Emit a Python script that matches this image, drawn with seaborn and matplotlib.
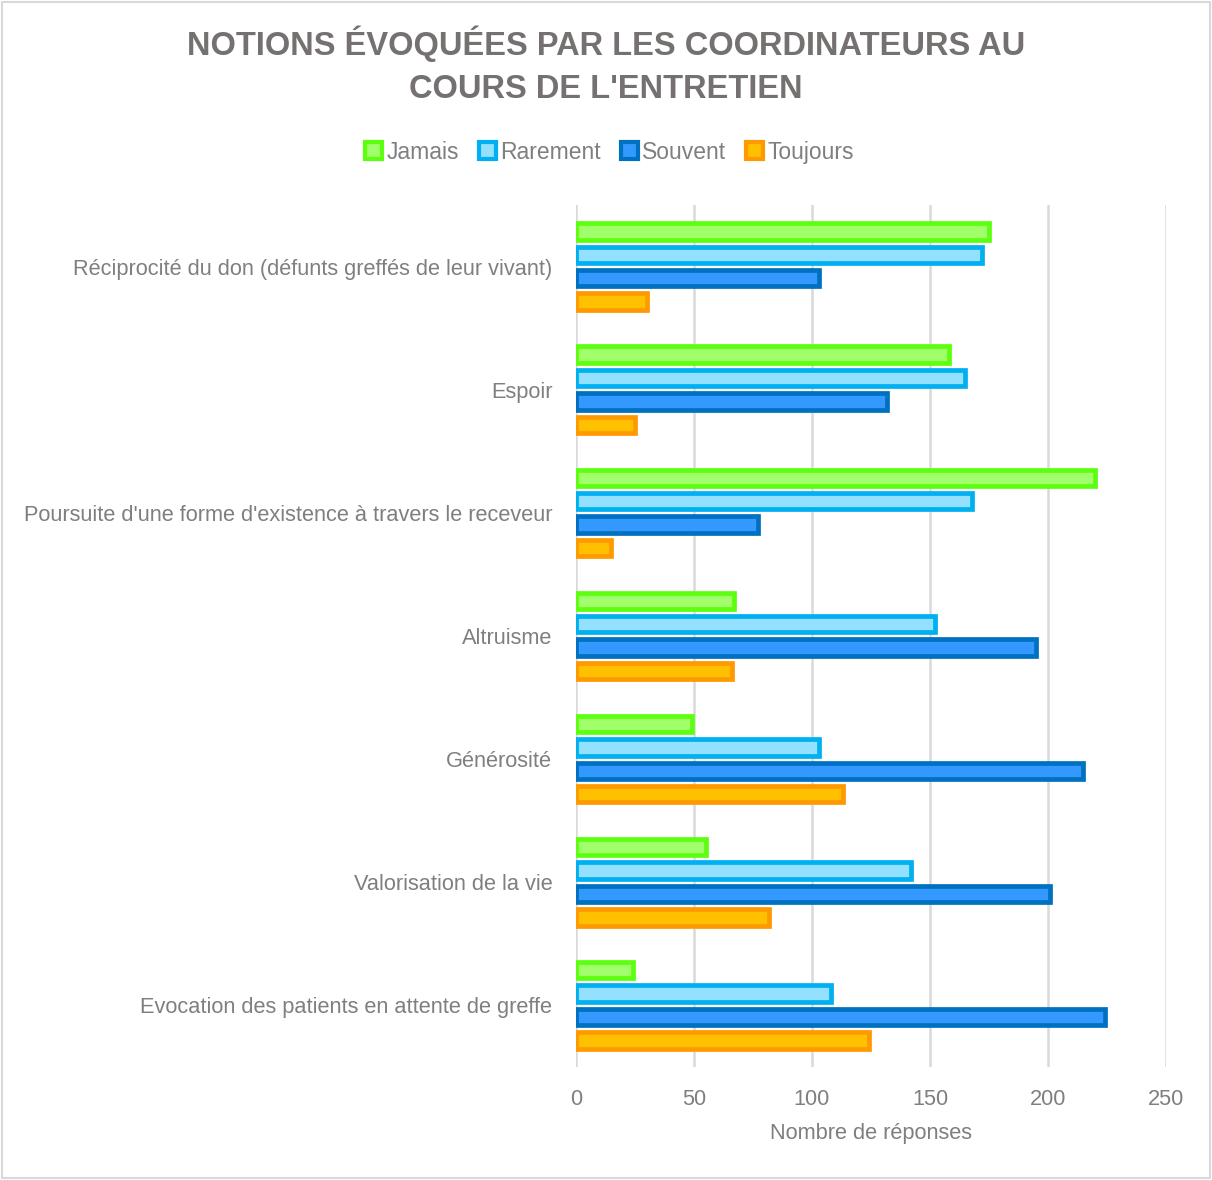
import matplotlib

matplotlib.use("Agg")

import matplotlib.pyplot as plt
import pandas as pd
import seaborn as sns
from matplotlib.patches import Patch, Rectangle

sns.set_style("white")
plt.rcParams["font.family"] = ["Liberation Sans", "DejaVu Sans"]

categories = [
    "Réciprocité du don (défunts greffés de leur vivant)",
    "Espoir",
    "Poursuite d'une forme d'existence à travers le receveur",
    "Altruisme",
    "Générosité",
    "Valorisation de la vie",
    "Evocation des patients en attente de greffe",
]
series = ["Jamais", "Rarement", "Souvent", "Toujours"]
jamais = [175, 158, 220, 67, 49, 55, 24]
rarement = [172, 165, 168, 152, 103, 142, 108]
souvent = [103, 132, 77, 195, 215, 201, 224]
toujours = [30, 25, 15, 66, 113, 82, 124]

fills = ["#A0FF6A", "#93E1FF", "#3399FF", "#FFC000"]
edges = ["#5CFF0F", "#00B0F0", "#0070C0", "#FF9900"]
TEXT = "#7F7F7F"

rows = []
for name, vals in zip(series, [jamais, rarement, souvent, toujours]):
    for cat, v in zip(categories, vals):
        rows.append({"cat": cat, "serie": name, "val": v})
df = pd.DataFrame(rows)

fig = plt.figure(figsize=(12.12, 11.80), dpi=100)
ax = fig.add_axes([0.4752, 0.0958, 0.962 - 0.4752, 0.8263 - 0.0958])

sns.barplot(data=df, y="cat", x="val", hue="serie", order=categories,
            hue_order=series, palette=fills, saturation=1, orient="h",
            width=0.76, gap=0.3, ax=ax, legend=False)

# thick outline in a stronger shade, like the original
for cont, ec in zip(ax.containers, edges):
    for bar in cont:
        bar.set_edgecolor(ec)
        bar.set_linewidth(3.4)
        bar.set_joinstyle("miter")

ax.set_xlim(0, 250)
ax.set_xticks(range(0, 251, 50))
ax.grid(axis="x", color="#D9D9D9", linewidth=1.8)
ax.set_axisbelow(True)
for s in ax.spines.values():
    s.set_visible(False)
ax.tick_params(length=0, labelsize=15.7, labelcolor=TEXT)
ax.tick_params(axis="y", pad=17)
ax.tick_params(axis="x", pad=16)
ax.set_ylabel("")
ax.set_xlabel("Nombre de réponses", fontsize=15.7, color=TEXT, labelpad=9)

fig.text(0.5, 0.978, "NOTIONS ÉVOQUÉES PAR LES COORDINATEURS AU\nCOURS DE L'ENTRETIEN",
         ha="center", va="top", fontsize=23.5, fontweight="bold", color="#767171",
         linespacing=1.5)

handles = [Patch(facecolor=f, edgecolor=e, linewidth=3) for f, e in zip(fills, edges)]
fig.legend(handles, series, loc="center", bbox_to_anchor=(0.503, 0.871), ncol=4,
           frameon=False, fontsize=16.5, labelcolor=TEXT, handlelength=0.75,
           handleheight=0.75, handletextpad=0.2, columnspacing=0.85)

fig.patches.append(Rectangle((0.002, 0.002), 0.996, 0.996, transform=fig.transFigure,
                             fill=False, edgecolor="#D9D9D9", linewidth=1.5))

fig.savefig("out.png", dpi=100)
